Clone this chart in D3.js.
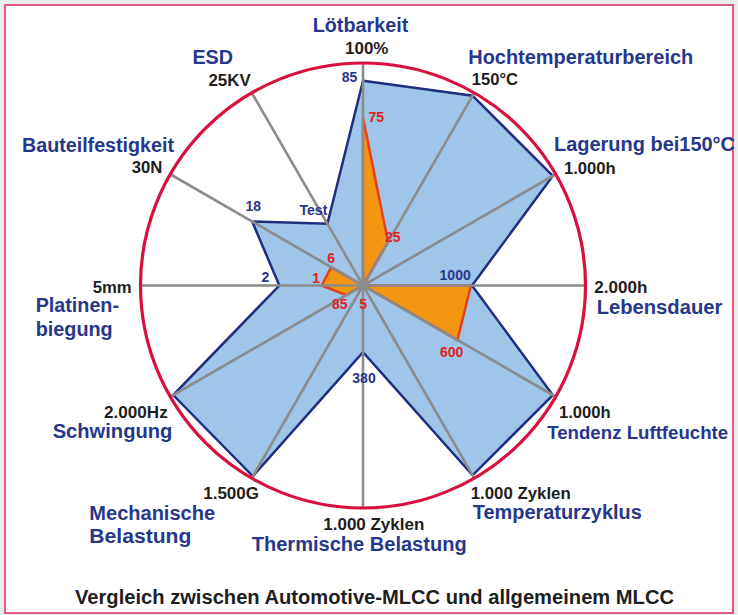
<!DOCTYPE html>
<html>
<head>
<meta charset="utf-8">
<script src="https://cdn.jsdelivr.net/npm/d3@7"></script>
<style>
  html, body { margin: 0; padding: 0; background: #ececec; }
  svg { display: block; }
  text { font-family: "Liberation Sans", Arial, Helvetica, sans-serif; font-weight: bold; }
</style>
</head>
<body>
<svg id="chart" width="738" height="615"></svg>
<script>
// ---------- data ----------
const categories = [
  ["Lötbarkeit"], ["Hochtemperaturbereich"], ["Lagerung bei150°C"], ["Lebensdauer"],
  ["Tendenz Luftfeuchte"], ["Temperaturzyklus"], ["Thermische Belastung"], ["Mechanische", "Belastung"],
  ["Schwingung"], ["Platinen-", "biegung"], ["Bauteilfestigkeit"], ["ESD"]
];
const rangeLabels = ["100%", "150°C", "1.000h", "2.000h", "1.000h", "1.000 Zyklen",
  "1.000 Zyklen", "1.500G", "2.000Hz", "5mm", "30N", "25KV"];
// values as fraction of each axis' full scale
const automotiveValues = [0.92, 0.985, 0.985, 0.49, 0.985, 0.985, 0.30, 0.99, 0.985, 0.376, 0.575, 0.32];
const generalValues    = [0.755, 0.225, 0, 0.485, 0.49, 0, 0, 0, 0.086, 0.186, 0.165, 0];
const automotiveLabels = [[0, "85"], [11, "Test"], [10, "18"], [9, "2"], [3, "1000"], [6, "380"]];
const generalLabels    = [[0, "75"], [1, "25"], [4, "600"], [10, "6"], [9, "1"], [8, "85"], [6, "5"]];

// ---------- layout (offsets from computed anchor points) ----------
const catLayout = [
  {dx: -2.5, dy: -31.3, anchor: "middle", w: [95.6]},
  {dx: -6, dy: -28.5, anchor: "start", w: [225]},
  {dx: -1.7, dy: -23.5, anchor: "start", w: [181]},
  {dx: 11.2, dy: 28.2, anchor: "start", w: [125.6]},
  {dx: -8.5, dy: 42.3, anchor: "start", w: [181], fs: 19},
  {dx: -1.5, dy: 41.1, anchor: "start", w: [169]},
  {dx: -3.8, dy: 43, anchor: "middle", w: [214.9]},
  {dx: -162.4, dy: 41.8, anchor: "start", w: [125.7, 102]},
  {dx: 2, dy: 41.6, anchor: "end", w: [119.6]},
  {dx: -104.8, dy: 26.8, anchor: "start", w: [83.3, 77]},
  {dx: 3.7, dy: -22.6, anchor: "end", w: [152]},
  {dx: -18.7, dy: -28.8, anchor: "end", w: [40.6]}
];
const rangeLayout = [
  {dx: 3.7, dy: -8.7, anchor: "middle", w: 43.3},
  {dx: -2.5, dy: -7.8, anchor: "start", w: 46.3},
  {dx: 8.3, dy: -0.3, anchor: "start", w: 51.7},
  {dx: 8.8, dy: 7.8, anchor: "start", w: 53},
  {dx: 3.3, dy: 21.6, anchor: "start", w: 51.7},
  {dx: -3.5, dy: 21.1, anchor: "start", w: 100},
  {dx: 10.8, dy: 22, anchor: "middle", w: 101},
  {dx: 7.2, dy: 20.8, anchor: "end", w: 55.7},
  {dx: -2.6, dy: 21.6, anchor: "end", w: 63.7},
  {dx: -8.8, dy: 7.8, anchor: "end", w: 39},
  {dx: -8, dy: -1, anchor: "end", w: 30.6},
  {dx: -1, dy: -6.8, anchor: "end", w: 42.3}
];
const autoLabelLayout = [
  {dx: -5.7, dy: 1.5, anchor: "end"},
  {dx: -0.1, dy: -8.5, anchor: "end"},
  {dx: 1, dy: -10.8, anchor: "middle"},
  {dx: -10, dy: -3.2, anchor: "end"},
  {dx: -1.3, dy: -5.5, anchor: "end"},
  {dx: 1, dy: 30.4, anchor: "middle"}
];
const genLabelLayout = [
  {dx: 5.5, dy: 4.1, anchor: "start"},
  {dx: -3, dy: 0, anchor: "start"},
  {dx: -5.7, dy: 16.7, anchor: "middle"},
  {dx: 0, dy: -3.9, anchor: "middle"},
  {dx: -1.6, dy: -2.2, anchor: "end"},
  {dx: -6.7, dy: 14.2, anchor: "middle"},
  {dx: 0.2, dy: 23.8, anchor: "middle"}
];

const W = 738, H = 615;
const cx = 363, cy = 285.5, R = 222.5;
const NAVY = "#1f2e80", TEXTBLUE = "#26378c", RED = "#e0241c";

const svg = d3.select("#chart");

// frame
svg.append("rect").attr("x", 5).attr("y", 5).attr("width", 728).attr("height", 608)
  .attr("fill", "#ffffff").attr("stroke", "#d8285a").attr("stroke-width", 1.5);

const n = categories.length;
const angle = d3.scaleLinear().domain([0, n]).range([0, 2 * Math.PI]);
const radius = d3.scaleLinear().domain([0, 1]).range([0, R]);
const pt = (i, v) => [cx + radius(v) * Math.sin(angle(i)), cy - radius(v) * Math.cos(angle(i))];

const g = svg.append("g");
const line = d3.line().curve(d3.curveLinearClosed);

// automotive polygon
g.append("path")
  .attr("d", line(automotiveValues.map((v, i) => pt(i, v))))
  .attr("fill", "#9fc5e9").attr("stroke", NAVY).attr("stroke-width", 2.5)
  .attr("stroke-linejoin", "miter");

// general polygon
g.append("path")
  .attr("d", line(generalValues.map((v, i) => pt(i, v))))
  .attr("fill", "#f39612").attr("stroke", "#e8401c").attr("stroke-width", 2.5)
  .attr("stroke-linejoin", "miter");

// axes
g.selectAll("line.axis").data(categories).join("line")
  .attr("class", "axis")
  .attr("x1", cx).attr("y1", cy)
  .attr("x2", (d, i) => pt(i, 1)[0]).attr("y2", (d, i) => pt(i, 1)[1])
  .attr("stroke", "#8c8c8c").attr("stroke-width", 2.6);

// outer circle
g.append("circle").attr("cx", cx).attr("cy", cy).attr("r", radius(1))
  .attr("fill", "none").attr("stroke", "#d7103f").attr("stroke-width", 3.2);

// category labels
categories.forEach((lines, i) => {
  const [x, y] = pt(i, 1), L = catLayout[i];
  lines.forEach((t, k) => {
    g.append("text")
      .attr("x", x + L.dx).attr("y", y + L.dy + k * 23.5)
      .attr("text-anchor", L.anchor)
      .attr("font-size", L.fs || 20).attr("fill", TEXTBLUE)
      .attr("textLength", L.w[k]).attr("lengthAdjust", "spacingAndGlyphs")
      .text(t);
  });
});

// range labels
rangeLabels.forEach((t, i) => {
  const [x, y] = pt(i, 1), L = rangeLayout[i];
  g.append("text")
    .attr("x", x + L.dx).attr("y", y + L.dy)
    .attr("text-anchor", L.anchor)
    .attr("font-size", 16.5).attr("fill", "#1e1e1e")
    .attr("textLength", L.w).attr("lengthAdjust", "spacingAndGlyphs")
    .text(t);
});

// value labels
automotiveLabels.forEach(([i, t], k) => {
  const [x, y] = pt(i, automotiveValues[i]), L = autoLabelLayout[k];
  g.append("text").attr("x", x + L.dx).attr("y", y + L.dy)
    .attr("text-anchor", L.anchor).attr("font-size", 14).attr("fill", TEXTBLUE).text(t);
});
generalLabels.forEach(([i, t], k) => {
  const [x, y] = pt(i, generalValues[i]), L = genLabelLayout[k];
  g.append("text").attr("x", x + L.dx).attr("y", y + L.dy)
    .attr("text-anchor", L.anchor).attr("font-size", 14).attr("fill", RED).text(t);
});

// title
svg.append("text").attr("x", 374.5).attr("y", 604)
  .attr("text-anchor", "middle").attr("font-size", 20).attr("fill", "#1e1e1e")
  .attr("textLength", 599).attr("lengthAdjust", "spacingAndGlyphs")
  .text("Vergleich zwischen Automotive-MLCC und allgemeinem MLCC");
</script>
</body>
</html>
